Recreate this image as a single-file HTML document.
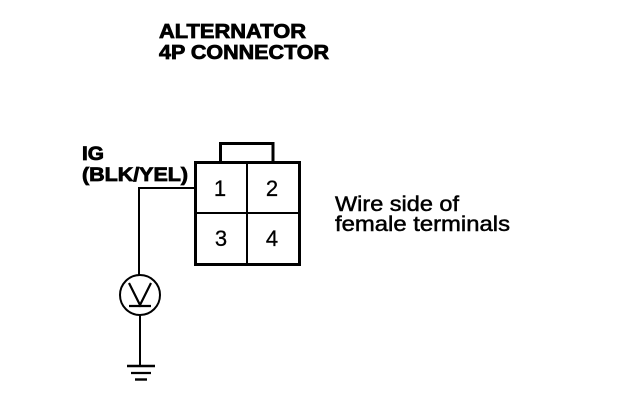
<!DOCTYPE html>
<html>
<head>
<meta charset="utf-8">
<style>
html,body{margin:0;padding:0;background:#fff;width:624px;height:414px;overflow:hidden}
svg{display:block}
text{font-family:"Liberation Sans",Arial,sans-serif;fill:#000}
</style>
</head>
<body>
<svg width="624" height="414" viewBox="0 0 624 414" xmlns="http://www.w3.org/2000/svg">
<rect width="624" height="414" fill="#fff"/>
<g font-weight="700" font-size="20" stroke="#000" stroke-width="0.8">
<text x="159" y="38" textLength="147" lengthAdjust="spacingAndGlyphs">ALTERNATOR</text>
<text x="159" y="59" textLength="170" lengthAdjust="spacingAndGlyphs">4P CONNECTOR</text>
<text x="82" y="160" font-size="19" textLength="22" lengthAdjust="spacingAndGlyphs">IG</text>
<text x="82" y="181" font-size="19" textLength="106" lengthAdjust="spacingAndGlyphs">(BLK/YEL)</text>
</g>
<g fill="none" stroke="#000">
<path d="M220.5 162V143.5H273V162" stroke-width="3"/>
<rect x="195.5" y="162.5" width="104" height="102" stroke-width="3"/>
<path d="M247 162V265" stroke-width="2"/>
<path d="M195 213H299" stroke-width="2"/>
<path d="M195 188H139V275" stroke-width="2"/>
<circle cx="140" cy="295" r="20" stroke-width="2"/>
<path d="M129 283L140 305L151 283" stroke-width="2.2"/>
<path d="M129 306H151" stroke-width="2.2"/>
<path d="M140 315V366" stroke-width="2"/>
<path d="M127 366H155" stroke-width="2.4"/>
<path d="M131 373H151" stroke-width="2.2"/>
<path d="M135 379.5H147" stroke-width="2.4"/>
</g>
<g font-size="22" text-anchor="middle" stroke="#000" stroke-width="0.3">
<text x="220" y="196">1</text>
<text x="272" y="196">2</text>
<text x="221" y="246">3</text>
<text x="272" y="246">4</text>
</g>
<g font-size="21" stroke="#000" stroke-width="0.5">
<text x="335" y="211" textLength="124" lengthAdjust="spacingAndGlyphs">Wire side of</text>
<text x="335" y="231" textLength="175" lengthAdjust="spacingAndGlyphs">female terminals</text>
</g>
</svg>
</body>
</html>
